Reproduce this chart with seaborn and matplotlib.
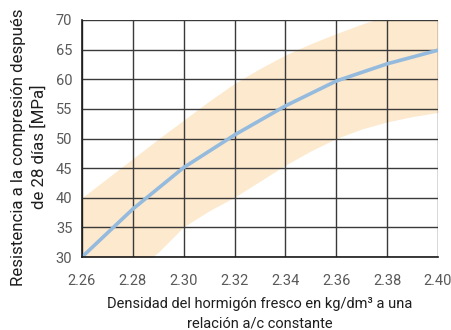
import numpy as np
import pandas as pd
import matplotlib
matplotlib.use("Agg")
import matplotlib.pyplot as plt
import seaborn as sns

# Mean compressive strength vs. fresh concrete density
density = [2.26, 2.28, 2.30, 2.32, 2.34, 2.36, 2.38, 2.40]
strength = [30.0, 38.1, 45.1, 50.6, 55.5, 59.7, 62.6, 64.9]

# Scatter band (upper / lower limits)
band_x = [2.26, 2.27, 2.28, 2.29, 2.30, 2.31, 2.32, 2.33, 2.34, 2.35, 2.36, 2.37, 2.38, 2.39, 2.40]
band_hi = [40.0, 43.3, 46.6, 49.9, 53.1, 56.3, 59.3, 61.8, 64.1, 66.0, 67.7, 69.3, 70.7, 72.0, 73.2]
band_lo = [20.5, 24.0, 27.5, 30.8, 35.1, 37.8, 40.1, 42.8, 45.5, 47.9, 50.0, 51.6, 52.8, 53.7, 54.4]

x_ticks = [2.26, 2.28, 2.30, 2.32, 2.34, 2.36, 2.38, 2.40]
y_ticks = [30, 35, 40, 45, 50, 55, 60, 65, 70]

sns.set_style("white")
plt.rcParams["font.family"] = ["Roboto", "DejaVu Sans"]

fig = plt.figure(figsize=(4.51, 3.30), dpi=100)
ax = fig.add_axes([0.1818, 0.2212, 0.971 - 0.1818, 0.9394 - 0.2212])

ax.fill_between(band_x, band_lo, band_hi, color="#fde9cd", lw=0, zorder=1)

df = pd.DataFrame({"density": density, "strength": strength})
sns.lineplot(data=df, x="density", y="strength", ax=ax, color="#94bade",
             lw=2.6, zorder=4)

ax.set_xlim(2.26, 2.40)
ax.set_ylim(30, 70)
ax.set_xticks(x_ticks)
ax.set_xticklabels([f"{v:.2f}" for v in x_ticks])
ax.set_yticks(y_ticks)
ax.set_yticklabels([str(v) for v in y_ticks])

ax.grid(True, color="#3a3a3a", lw=1.0, zorder=2)
ax.set_axisbelow(False)
for side in ["top", "right"]:
    ax.spines[side].set_visible(False)
for side in ["left", "bottom"]:
    ax.spines[side].set_color("#1a1a1a")
    ax.spines[side].set_linewidth(1.2)
    ax.spines[side].set_zorder(5)

ax.tick_params(axis="both", direction="out", length=4, width=1.0,
               color="#1a1a1a", labelsize=10.5, labelcolor="#595959", pad=3)
ax.tick_params(axis="x", pad=8)

ax.set_xlabel("Densidad del hormigón fresco en kg/dm³ a una\nrelación a/c constante",
              fontsize=10.5, color="#1e1e1e", labelpad=7, linespacing=1.45)
ax.set_ylabel("Resistencia a la compresión después\nde 28 días [MPa]",
              fontsize=12.2, color="#1e1e1e", linespacing=1.3)
ax.yaxis.set_label_coords(-0.1, 0.465)

fig.savefig("out.png", dpi=100)
